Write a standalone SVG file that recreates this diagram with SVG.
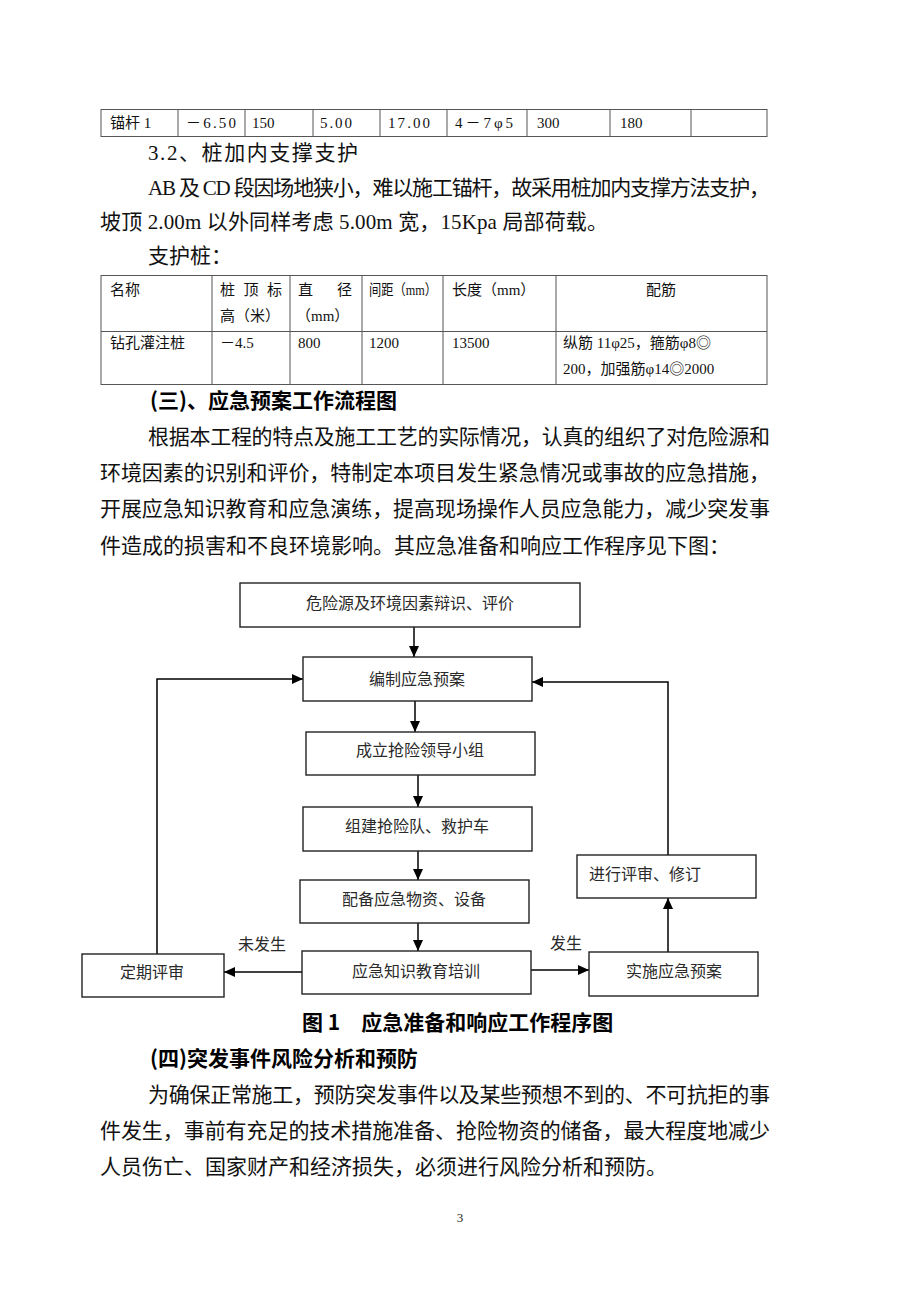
<svg xmlns="http://www.w3.org/2000/svg" width="920" height="1302" viewBox="0 0 920 1302">
<style>
.b{font-family:"Liberation Serif","Noto Sans CJK SC",serif;font-size:21px;fill:#111}
.h{font-family:"Noto Sans CJK SC","Liberation Sans",sans-serif;font-size:21px;font-weight:bold;fill:#000}
.t{font-family:"Liberation Serif","Noto Sans CJK SC",serif;font-size:15px;fill:#111}
.f{font-family:"Liberation Serif","Noto Sans CJK SC",serif;font-size:16px;fill:#2a2a2a}
.fc{text-anchor:middle}
.g{stroke:#555;stroke-width:1;fill:none}
.box{fill:#fff;stroke:#222;stroke-width:1.4}
.c{fill:none;stroke:#000;stroke-width:1.5}
</style>
<defs>
<marker id="ah" markerUnits="userSpaceOnUse" markerWidth="12" markerHeight="10" refX="11" refY="5" orient="auto">
<path d="M0,0 L11,5 L0,10 z" fill="#000"/>
</marker>
</defs>
<rect width="920" height="1302" fill="#fff"/>

<g id="table1">
<rect class="g" x="101" y="109.5" width="666" height="27"/>
<path class="g" d="M178 109.5V136.5M245 109.5V136.5M313 109.5V136.5M380 109.5V136.5M447 109.5V136.5M527 109.5V136.5M610 109.5V136.5M691 109.5V136.5"/>
<text class="t" y="128"><tspan x="110">锚杆 1</tspan><tspan x="186" textLength="50" lengthAdjust="spacing">－6.50</tspan><tspan x="252">150</tspan><tspan x="320" textLength="32" lengthAdjust="spacing">5.00</tspan><tspan x="388" textLength="42" lengthAdjust="spacing">17.00</tspan><tspan x="455" textLength="58" lengthAdjust="spacing">4－7φ5</tspan><tspan x="537">300</tspan><tspan x="620">180</tspan></text>
</g>

<g id="para1">
<text class="b" x="148" y="160" textLength="210" lengthAdjust="spacing">3.2、桩加内支撑支护</text>
<text class="b" x="148" y="195" textLength="622" lengthAdjust="spacing">AB 及 CD 段因场地狭小，难以施工锚杆，故采用桩加内支撑方法支护，</text>
<text class="b" x="100" y="229" textLength="508" lengthAdjust="spacing">坡顶 2.00m 以外同样考虑 5.00m 宽，15Kpa 局部荷载。</text>
<text class="b" x="148" y="263">支护桩：</text>
</g>

<g id="table2">
<rect class="g" x="101" y="275.5" width="666" height="109"/>
<path class="g" d="M101 331.5H767M212 275.5V384.5M290 275.5V384.5M362 275.5V384.5M443 275.5V384.5M556 275.5V384.5"/>
<text class="t" x="110" y="295">名称</text>
<text class="t" x="220" y="295" textLength="62" lengthAdjust="spacing">桩 顶 标</text>
<text class="t" x="220" y="321">高（米）</text>
<text class="t" x="298" y="295" textLength="54" lengthAdjust="spacing">直　径</text>
<text class="t" x="296" y="321">（mm）</text>
<text class="t" x="369" y="295" textLength="68" lengthAdjust="spacingAndGlyphs">间距（mm）</text>
<text class="t" x="452" y="295">长度（mm）</text>
<text class="t" x="661" y="295" text-anchor="middle">配筋</text>
<text class="t" x="110" y="348">钻孔灌注桩</text>
<text class="t" x="220" y="348">－4.5</text>
<text class="t" x="298" y="348">800</text>
<text class="t" x="369" y="348">1200</text>
<text class="t" x="452" y="348">13500</text>
<text class="t" x="563" y="348">纵筋 11φ25，箍筋φ8◎</text>
<text class="t" x="563" y="374">200，加强筋φ14◎2000</text>
</g>

<g id="section3">
<text class="h" x="150" y="408">(三)、应急预案工作流程图</text>
<text class="b" x="148" y="444" textLength="622" lengthAdjust="spacing">根据本工程的特点及施工工艺的实际情况，认真的组织了对危险源和</text>
<text class="b" x="100" y="480" textLength="670" lengthAdjust="spacing">环境因素的识别和评价，特制定本项目发生紧急情况或事故的应急措施，</text>
<text class="b" x="100" y="516" textLength="670" lengthAdjust="spacing">开展应急知识教育和应急演练，提高现场操作人员应急能力，减少突发事</text>
<text class="b" x="100" y="553">件造成的损害和不良环境影响。其应急准备和响应工作程序见下图：</text>
</g>

<g id="connectors">
<path class="c" d="M414 627V657" marker-end="url(#ah)"/>
<path class="c" d="M415 701V732" marker-end="url(#ah)"/>
<path class="c" d="M418 775V807" marker-end="url(#ah)"/>
<path class="c" d="M418 851V880" marker-end="url(#ah)"/>
<path class="c" d="M418 923V951" marker-end="url(#ah)"/>
<path class="c" d="M302 972H224" marker-end="url(#ah)"/>
<path class="c" d="M531 970H589" marker-end="url(#ah)"/>
<path class="c" d="M668 952V898" marker-end="url(#ah)"/>
<path class="c" d="M157 954V679H303" marker-end="url(#ah)"/>
<path class="c" d="M668 855V682H532" marker-end="url(#ah)"/>
<text class="f" x="238" y="950">未发生</text>
<text class="f" x="550" y="949">发生</text>
</g>

<g id="n1"><rect class="box" x="240" y="583" width="340" height="44"/><text class="f fc" x="410" y="609">危险源及环境因素辩识、评价</text></g>
<g id="n2"><rect class="box" x="303" y="657" width="229" height="44"/><text class="f fc" x="417" y="685">编制应急预案</text></g>
<g id="n3"><rect class="box" x="306" y="732" width="229" height="43"/><text class="f fc" x="420" y="756">成立抢险领导小组</text></g>
<g id="n4"><rect class="box" x="303" y="807" width="229" height="44"/><text class="f fc" x="417" y="832">组建抢险队、救护车</text></g>
<g id="n5"><rect class="box" x="300" y="880" width="229" height="43"/><text class="f fc" x="414" y="905">配备应急物资、设备</text></g>
<g id="n6"><rect class="box" x="302" y="951" width="229" height="43"/><text class="f fc" x="416" y="977">应急知识教育培训</text></g>
<g id="n7"><rect class="box" x="82" y="954" width="142" height="43"/><text class="f fc" x="152" y="978">定期评审</text></g>
<g id="n8"><rect class="box" x="589" y="952" width="169" height="44"/><text class="f fc" x="674" y="977">实施应急预案</text></g>
<g id="n9"><rect class="box" x="577" y="855" width="179" height="43"/><text class="f" x="589" y="880">进行评审、修订</text></g>

<g id="caption">
<text class="h" x="302" y="1030" font-size="20">图 1　应急准备和响应工作程序图</text>
</g>

<g id="section4">
<text class="h" x="150" y="1066">(四)突发事件风险分析和预防</text>
<text class="b" x="148" y="1102" textLength="622" lengthAdjust="spacing">为确保正常施工，预防突发事件以及某些预想不到的、不可抗拒的事</text>
<text class="b" x="100" y="1138" textLength="670" lengthAdjust="spacing">件发生，事前有充足的技术措施准备、抢险物资的储备，最大程度地减少</text>
<text class="b" x="100" y="1174">人员伤亡、国家财产和经济损失，必须进行风险分析和预防。</text>
</g>

<text x="460" y="1222" text-anchor="middle" font-family="Liberation Serif, serif" font-size="13" fill="#222">3</text>
</svg>
